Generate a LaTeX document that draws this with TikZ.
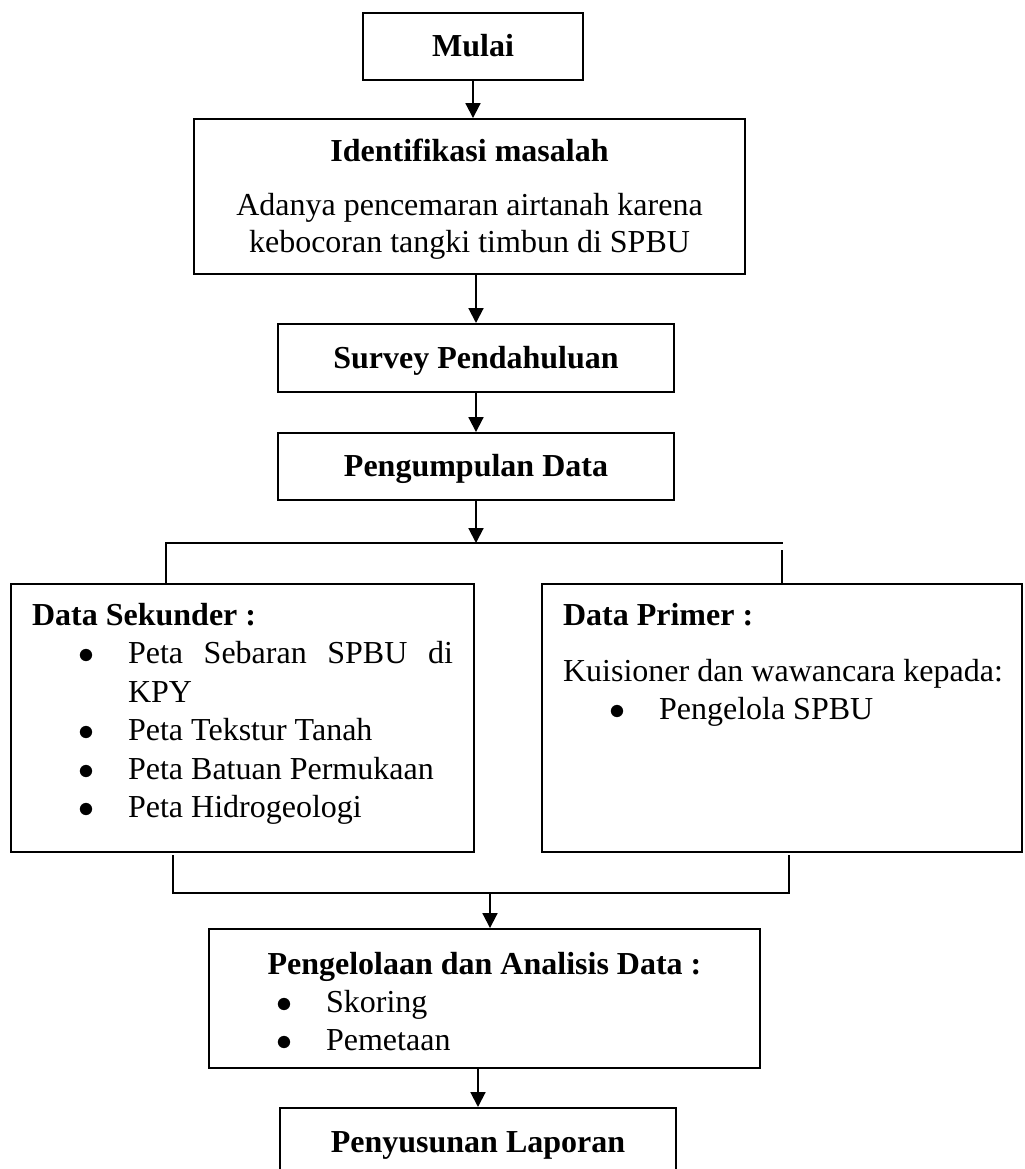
\documentclass[tikz,border=0pt]{standalone}
\usepackage{fontspec}
\setmainfont{Liberation Serif}
\usepackage{enumitem}
\usetikzlibrary{arrows.meta}
\setlist[itemize]{label=$\bullet$,leftmargin=36pt,labelsep=12.75pt,nosep}

\begin{document}
\begin{tikzpicture}[x=0.375pt,y=-0.375pt,line width=0.75pt,>={Triangle[length=5.6pt,width=5.6pt]}]
		\tikzstyle{every node}=[font=\fontsize{12pt}{14.4pt}\selectfont]
		\tikzstyle{Kotak}=[draw,line width=0.75pt,inner sep=0pt]
		\tikzstyle{KotakJudul}=[Kotak,minimum width=148.5pt,minimum height=25.5pt,text height=8pt,text depth=0.4pt,font=\fontsize{12pt}{14.4pt}\selectfont\bfseries]
		\clip (0,0) rectangle (1024,1169);
		\node[KotakJudul,minimum width=82.5pt,minimum height=25.1pt] (mulai) at (473,46.5) {Mulai};
		\node[Kotak,minimum width=206.6pt,minimum height=58.1pt,align=center,font=\fontsize{12pt}{13.9pt}\selectfont] (identifikasi) at (469.5,196.5)
			{\rule{0pt}{10.5pt}\textbf{Identifikasi masalah}\\[6.3pt]Adanya pencemaran airtanah karena\\kebocoran tangki timbun di SPBU};
		\node[KotakJudul] (survey) at (476,358) {Survey Pendahuluan};
		\node[KotakJudul,minimum height=25.1pt] (pengumpulan) at (476,466.5) {Pengumpulan Data};
		% data sekunder / primer
		\node[Kotak,minimum width=173.6pt,minimum height=100.5pt] (sekunder) at (242.5,718)
			{\parbox[c][89.5pt][t]{157.8pt}{\tolerance=9999\hyphenpenalty=10000
				\strut\textbf{Data Sekunder :}
				\begin{itemize}
					\item Peta Sebaran SPBU di KPY
					\item Peta Tekstur Tanah
					\item Peta Batuan Permukaan
					\item Peta Hidrogeologi
				\end{itemize}}};
		\node[Kotak,minimum width=180pt,minimum height=100.5pt] (primer) at (782,718)
			{\parbox[c][89.5pt][t]{164.2pt}{\strut\textbf{Data Primer :}\par\vspace{6.5pt}
				\mbox{Kuisioner dan wawancara kepada:}
				\begin{itemize}
					\item Pengelola SPBU
				\end{itemize}}};
		\node[Kotak,minimum width=206.6pt,minimum height=52.1pt] (analisis) at (484.5,998.5)
			{\parbox[c][40.1pt][t]{190.8pt}{{\centering\rule{0pt}{10.9pt}\textbf{Pengelolaan dan Analisis Data :}\par}
				\begin{itemize}
					\item Skoring
					\item Pemetaan
				\end{itemize}}};
		\node[KotakJudul] (laporan) at (478,1142) {Penyusunan Laporan};
		% percabangan
		\coordinate (cabangkiri) at (166,543);
		\coordinate (cabangkanan) at (783,543);
		\coordinate (ujungkanan) at (782,550);
		\coordinate (gabungkiri) at (173,892.5);
		\coordinate (gabungkanan) at (789,892.5);
		\coordinate (gabung) at (490,892.5);
		\draw[->] (mulai.south) -- (mulai.south |- identifikasi.north);
		\draw[->] (identifikasi.south -| survey.north) -- (survey.north);
		\draw[->] (survey) -- (pengumpulan);
		\draw[->] (pengumpulan.south) -- (pengumpulan.south |- cabangkiri);
		\draw (cabangkiri |- sekunder.north) -- (cabangkiri) -- (cabangkanan);
		\draw (ujungkanan) -- (ujungkanan |- primer.north);
		\draw (gabungkiri) ++(0,-37.5) -- (gabungkiri) -- (gabungkanan) -- ++(0,-37.5);
		\draw[->] (gabung) -- (gabung |- analisis.north);
		\draw[->] (analisis.south -| laporan.north) -- (laporan.north);
	\end{tikzpicture}
\end{document}
